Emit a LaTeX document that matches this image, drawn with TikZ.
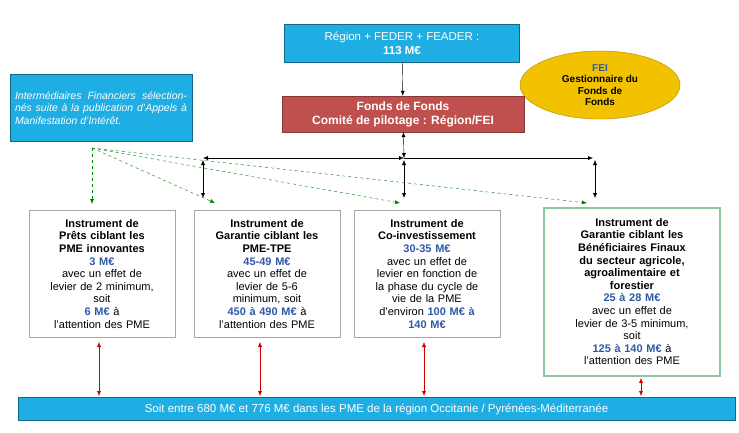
\documentclass[tikz,border=0pt]{standalone}
\usepackage{fontspec}
\setmainfont{Liberation Sans}
\usetikzlibrary{shapes.geometric,arrows.meta}
\definecolor{cyanbox}{HTML}{1EAEE3}
\definecolor{redbox}{HTML}{C0504D}
\definecolor{goldfei}{HTML}{F2C200}
\definecolor{bluenum}{HTML}{2E5AA8}
\definecolor{greenedge}{HTML}{8CC6A0}
\tikzset{
  cyanbox/.style={draw=cyanbox!60!black, fill=cyanbox, text=white, inner sep=2pt},
  instr/.style={draw=gray!70, fill=white, align=center, anchor=north, text width=140pt,
    font=\fontsize{11}{12.6}\selectfont, inner sep=3pt},
  blk/.style={-{Latex[length=5pt,width=4pt]}, black},
  blkboth/.style={{Latex[length=5pt,width=4pt]}-{Latex[length=5pt,width=4pt]}, black},
  redboth/.style={{Latex[length=5pt,width=4pt]}-{Latex[length=5pt,width=4pt]}, red!80!black},
  grn/.style={-{Latex[length=5pt,width=4pt]}, green!50!black, dashed},
}
\newcommand{\num}[1]{\textcolor{bluenum}{\textbf{#1}}}
\begin{document}
\begin{tikzpicture}[x=1pt,y=-1pt]
  \useasboundingbox (0,0) rectangle (739,432);
  % top
  \node[cyanbox, minimum width=235pt, minimum height=38pt, align=center,
    font=\fontsize{11.5}{14}\selectfont] (region) at (402,43)
    {Région + FEDER + FEADER :\\\textbf{113 M€}};
  \node[ellipse, draw=goldfei!70!black, fill=goldfei, minimum width=160pt, minimum height=66pt,
    align=center, font=\bfseries\fontsize{10}{11.5}\selectfont] (fei) at (600,85)
    {\textcolor{bluenum}{FEI}\\Gestionnaire du\\Fonds de\\Fonds};
  \node[draw=redbox!70!black, fill=redbox, text=white, minimum width=242pt, minimum height=36pt,
    align=center, font=\bfseries\fontsize{12}{14}\selectfont] (fonds) at (403,114)
    {Fonds de Fonds\\Comité de pilotage : Région/FEI};
  \node[cyanbox, minimum height=67pt, text width=172pt, inner sep=5pt,
    font=\itshape\fontsize{10.5}{12.5}\selectfont, align=justify] (interm) at (101,108)
    {Intermédiaires Financiers sélectionnés suite à la publication d'Appels à Manifestation d'Intérêt.};
  % hub
  \coordinate (hub) at (404,158);
  \coordinate (hl) at (203,158);
  \coordinate (hr) at (593,158);
  \draw[blk] (region) -- (fonds);
  \draw[blkboth] (fonds) -- (hub);
  \draw[blkboth] (hub) -- (hl);
  \draw[blk] (hub) -- (hr);
  % instruments
  \node[instr, minimum height=127pt] (pret) at (102,210)
    {\textbf{Instrument de\\Prêts ciblant les\\PME innovantes}\\\num{3 M€}\\avec un effet de\\levier de 2 minimum,\\soit\\\num{6 M€} à\\l'attention des PME};
  \node[instr, minimum height=127pt] (gar) at (267,210)
    {\textbf{Instrument de\\Garantie ciblant les\\PME-TPE}\\\num{45-49 M€}\\avec un effet de\\levier de 5-6\\minimum, soit\\\num{450 à 490 M€} à\\l'attention des PME};
  \node[instr, minimum height=127pt] (coinv) at (427,210)
    {\textbf{Instrument de\\Co-investissement}\\\num{30-35 M€}\\avec un effet de\\levier en fonction de\\la phase du cycle de\\vie de la PME\\d'environ \num{100 M€ à}\\\num{140 M€}};
  \node[instr, draw=greenedge, line width=1.5pt, text width=170pt, minimum height=168pt] (agri) at (632,207)
    {\textbf{Instrument de\\Garantie ciblant les\\Bénéficiaires Finaux\\du secteur agricole,\\agroalimentaire et\\forestier}\\\num{25 à 28 M€}\\avec un effet de\\levier de 3-5 minimum,\\soit\\\num{125 à 140 M€} à\\l'attention des PME};
  \coordinate (tl) at (203,160);
  \coordinate (tc) at (404,160);
  \coordinate (tr) at (595,160);
  \draw[blkboth] (tl) -- (203,198);
  \draw[blkboth] (tc) -- (404,198);
  \draw[blkboth] (tr) -- (595,198);
  % green dashed
  \coordinate (gs) at (92,148);
  \draw[grn] (gs) -- (92,204);
  \draw[grn] (gs) -- (215,203);
  \draw[grn] (gs) -- (400,203);
  \draw[grn] (gs) -- (587,203);
  % bottom
  \node[cyanbox, minimum width=717pt, minimum height=23pt, font=\fontsize{11.5}{13}\selectfont]
    (total) at (376.5,409) {Soit entre 680 M€ et 776 M€ dans les PME de la région Occitanie / Pyrénées-Méditerranée};
  \draw[redboth] (99,342) -- (99,396);
  \draw[redboth] (260,342) -- (260,396);
  \draw[redboth] (424,342) -- (424,396);
  \draw[redboth] (641,378) -- (641,396);
\end{tikzpicture}
\end{document}
